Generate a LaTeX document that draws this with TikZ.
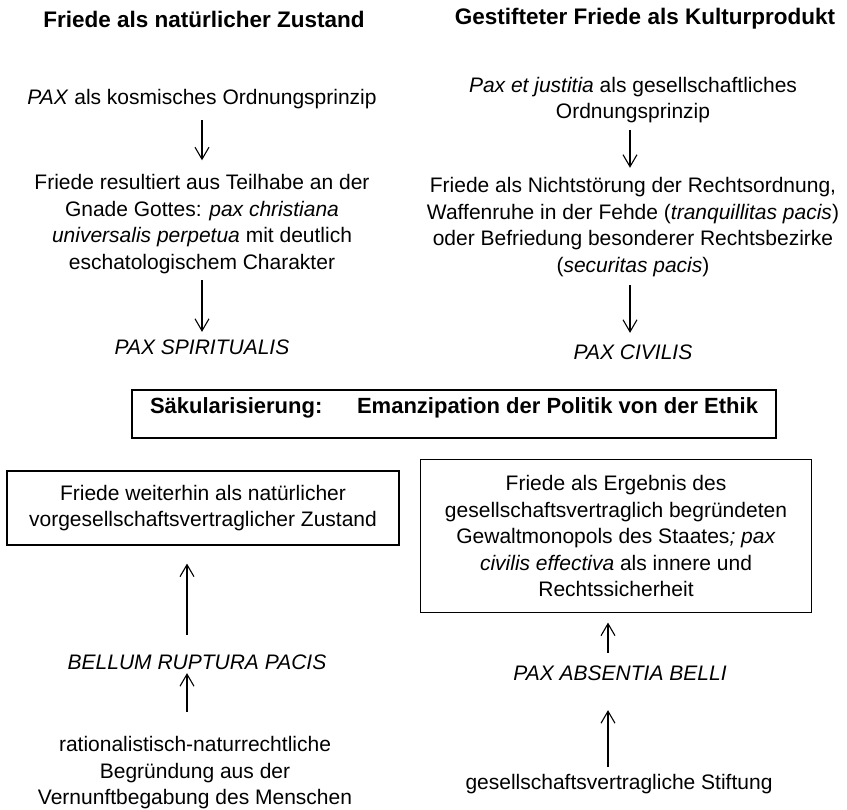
\documentclass[tikz,border=0pt]{standalone}
\usepackage{fontspec}
\setmainfont{Liberation Sans}
\usetikzlibrary{arrows.meta}
\usetikzlibrary{positioning}
\tikzset{block/.style={draw, line width=1.2pt, text centered, align=center, inner sep=2pt}}
\tikzset{txt/.style={text centered, align=center, inner sep=2pt}}
\tikzset{heading/.style={txt, font=\fontsize{22.5}{26.5}\selectfont\bfseries}}
\tikzset{connect/.style={draw, line width=1.1pt}}

\begin{document}
\begin{tikzpicture}[font=\fontsize{21}{26.5}\selectfont, >={Straight Barb[length=12pt,width=14pt]}]
\useasboundingbox (0,0) rectangle (847pt,-810pt);

%secularisation in the middle
\node[block,minimum width=644pt,minimum height=48pt] (sakular) at (454pt,-414pt) {};
\node[txt,font=\fontsize{22}{26.5}\selectfont\bfseries] (sakulartext) at([yshift=6pt]sakular) {\makebox[608pt]{Säkularisierung:\hfill Emanzipation der Politik von der Ethik}};

%headings
\node[heading] (head1) at([xshift=-250pt,yshift=395pt]sakular) {Friede als natürlicher Zustand};
\node[heading] (head2) at([xshift=191pt,yshift=395pt]sakular) {Gestifteter Friede als Kulturprodukt};

%natural peace
\node[txt] (pax) at([xshift=-252pt,yshift=315pt]sakular) {\textit{PAX} als kosmisches Ordnungsprinzip};
\node[txt] (gnade) at([xshift=-252pt,yshift=190pt]sakular) {Friede resultiert aus Teilhabe an der\\Gnade Gottes: \textit{pax christiana}\\\textit{universalis perpetua} mit deutlich\\eschatologischem Charakter};
\node[txt] (spirit) at([xshift=-252pt,yshift=67pt]sakular) {\textit{PAX SPIRITUALIS}};

%peace as culture
\node[txt] (justitia) at([xshift=179pt,yshift=314pt]sakular) {\textit{Pax et justitia} als gesellschaftliches\\Ordnungsprinzip};
\node[txt] (ruhe) at([xshift=179pt,yshift=187pt]sakular) {Friede als Nichtstörung der Rechtsordnung,\\Waffenruhe in der Fehde (\textit{tranquillitas pacis})\\oder Befriedung besonderer Rechtsbezirke\\(\textit{securitas pacis})};
\node[txt] (civilis) at([xshift=179pt,yshift=62pt]sakular) {\textit{PAX CIVILIS}};

%lower boxes
\node[block,minimum width=392pt,minimum height=74pt] (leftbox) at([xshift=-251pt,yshift=-94pt]sakular) {Friede weiterhin als natürlicher\\vorgesellschaftsvertraglicher Zustand};
\node[block,minimum width=391pt,minimum height=153pt] (rightbox) at([xshift=162pt,yshift=-122pt]sakular) {Friede als Ergebnis des\\gesellschaftsvertraglich begründeten\\Gewaltmonopols des Staates\textit{; pax}\\\textit{civilis effectiva} als innere und\\Rechtssicherheit};

%reasons below
\node[txt] (bellum) at([xshift=-257pt,yshift=-248pt]sakular) {\textit{BELLUM RUPTURA PACIS}};
\node[txt] (ration) at([xshift=-259pt,yshift=-359pt]sakular) {rationalistisch-naturrechtliche\\Begründung aus der\\Vernunftbegabung des Menschen};
\node[txt] (absentia) at([xshift=166pt,yshift=-259pt]sakular) {\textit{PAX ABSENTIA BELLI}};
\node[txt] (stiftung) at([xshift=165pt,yshift=-370pt]sakular) {gesellschaftsvertragliche Stiftung};

%arrows down
\path[connect,->,shorten <=9pt,shorten >=12pt] (pax.south) -- (gnade.north);
\path[connect,->,shorten <=4.5pt,shorten >=5.5pt] (gnade.south) -- (spirit.north);
\path[connect,->,shorten <=5pt,shorten >=7.5pt] ([xshift=-3pt]justitia.south) -- ([xshift=-3pt]justitia.south |- ruhe.north);
\path[connect,->,shorten <=6.5pt,shorten >=9.5pt] ([xshift=-3pt]ruhe.south) -- ([xshift=-3pt]ruhe.south |- civilis.north);

%arrows up
\path[connect,->,shorten <=17.5pt,shorten >=18pt] ([xshift=-10pt]bellum.north) -- ([xshift=-10pt]bellum.north |- leftbox.south);
\path[connect,->,shorten <=22.5pt,shorten >=1.5pt] ([xshift=-8pt]ration.north) -- ([xshift=-8pt]ration.north |- bellum.south);
\path[connect,->,shorten <=10.5pt,shorten >=9.5pt] ([xshift=-12pt]absentia.north) -- ([xshift=-12pt]absentia.north |- rightbox.south);
\path[connect,->,shorten <=5pt,shorten >=27.5pt] ([xshift=-11pt]stiftung.north) -- ([xshift=-11pt]stiftung.north |- absentia.south);

\end{tikzpicture}
\end{document}
